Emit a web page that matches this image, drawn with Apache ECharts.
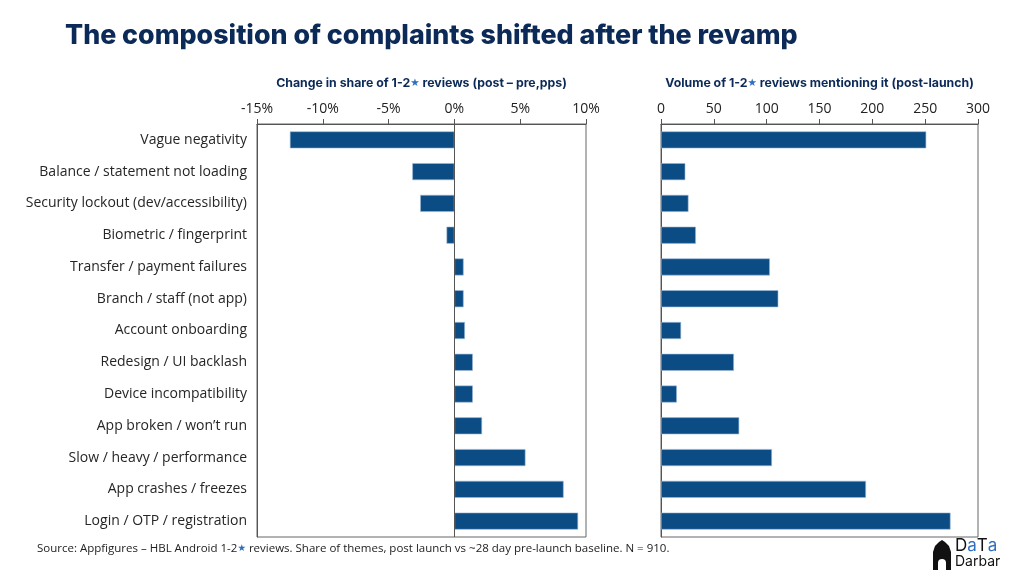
<!DOCTYPE html>
<html>
<head>
<meta charset="utf-8">
<script src="https://cdn.jsdelivr.net/npm/echarts@6/dist/echarts.min.js"></script>
<style>
  html, body { margin: 0; padding: 0; background: #fff; }
  #chart { width: 1024px; height: 576px; }
</style>
</head>
<body>
<div id="chart"></div>
<script>
// complaint themes, top to bottom
var themes = [
  'Vague negativity',
  'Balance / statement not loading',
  'Security lockout (dev/accessibility)',
  'Biometric / fingerprint',
  'Transfer / payment failures',
  'Branch / staff (not app)',
  'Account onboarding',
  'Redesign / UI backlash',
  'Device incompatibility',
  'App broken / won\u2019t run',
  'Slow / heavy / performance',
  'App crashes / freezes',
  'Login / OTP / registration'
];
// change in share, percentage points (post - pre)
var shareChange = [-12.5, -3.2, -2.6, -0.6, 0.7, 0.7, 0.8, 1.4, 1.4, 2.1, 5.4, 8.3, 9.4];
// number of 1-2 star reviews post launch
var volume = [251, 23, 26, 33, 103, 111, 19, 69, 15, 74, 105, 194, 274];

var changeTicks = { min: -15, max: 10, step: 5 };
var volumeTicks = { min: 0, max: 300, step: 50 };

var navy = '#0c2a57';
var barBlue = '#0b4c85';
var star = '#2f6fc0';
var font = 'Open Sans';

var chart = echarts.init(document.getElementById('chart'));

function valueAxis(idx, name, ticks, fmt) {
  return {
    type: 'value',
    gridIndex: idx,
    position: 'top',
    min: ticks.min,
    max: ticks.max,
    interval: ticks.step,
    name: name,
    nameLocation: 'middle',
    nameGap: 35,
    nameTextStyle: {
      rich: {
        a: { fontFamily: 'Inter', fontWeight: 'bold', fontSize: 12.3, color: navy },
        s: { fontFamily: 'DejaVu Sans', fontSize: 10.5, color: star }
      }
    },
    axisLine: { show: true, lineStyle: { color: '#555', width: 1 } },
    axisTick: { show: true, length: 5, lineStyle: { color: '#555' } },
    axisLabel: { formatter: fmt, fontFamily: font, fontSize: 14, color: '#222', margin: 8 },
    splitLine: { show: false }
  };
}

function catAxis(idx, showLabels) {
  return {
    type: 'category',
    gridIndex: idx,
    data: themes,
    inverse: true,
    axisLine: { show: true, onZero: false, lineStyle: { color: '#555' } },
    axisTick: { show: false },
    axisLabel: { show: showLabels, fontFamily: font, fontSize: 14, color: '#262626', margin: 10 }
  };
}

var option = {
  backgroundColor: '#fff',
  animation: false,
  graphic: [
    {
      type: 'text', x: 65, y: 22,
      style: { text: 'The composition of complaints shifted after the revamp',
        font: '800 26.8px Inter', fill: navy }
    },
    {
      type: 'text', x: 37, y: 543,
      style: {
        text: '{a|Source: Appfigures \u2013 HBL Android 1-2}{s|\u2605}{a| reviews. Share of themes, post launch vs ~28 day pre-launch baseline. N = 910.}',
        rich: {
          a: { fontFamily: font, fontSize: 11.5, fill: '#222' },
          s: { fontFamily: 'DejaVu Sans', fontSize: 9.5, fill: star }
        }
      }
    },
    {
      // logo dome
      type: 'polygon',
      shape: { points: [[933, 570], [933, 552], [935, 546], [939, 542], [942, 540], [945, 542], [949, 546], [951, 552], [951, 570]] },
      style: { fill: '#111' }
    },
    {
      type: 'rect',
      shape: { x: 938, y: 559, width: 8, height: 11, r: [4, 4, 0, 0] },
      style: { fill: '#fff' }
    },
    {
      type: 'text', x: 955, y: 537,
      style: {
        text: '{d|D}{b|a}{d|T}{b|a}',
        rich: {
          d: { fontFamily: 'Inter', fontSize: 17, fill: '#111' },
          b: { fontFamily: 'Inter', fontSize: 17, fill: star }
        }
      }
    },
    {
      type: 'text', x: 955, y: 555,
      style: { text: 'Darbar', font: '14px Inter', fill: '#111' }
    }
  ],
  grid: [
    { left: 257, right: 438, top: 124, bottom: 39, show: true, borderColor: '#666', borderWidth: 1 },
    { left: 661, right: 46, top: 124, bottom: 39, show: true, borderColor: '#666', borderWidth: 1 }
  ],
  xAxis: [
    valueAxis(0, '{a|Change in share of 1-2}{s|\u2605}{a| reviews (post \u2013 pre,pps)}', changeTicks, '{value}%'),
    valueAxis(1, '{a|Volume of 1-2}{s|\u2605}{a| reviews mentioning it (post-launch)}', volumeTicks, '{value}')
  ],
  yAxis: [catAxis(0, true), catAxis(1, false)],
  series: [
    {
      type: 'bar', xAxisIndex: 0, yAxisIndex: 0,
      data: shareChange, barWidth: 17,
      itemStyle: { color: barBlue, borderColor: '#9db8d6', borderWidth: 0.6 },
      markLine: {
        silent: true, symbol: 'none', label: { show: false },
        lineStyle: { color: '#555', width: 1, type: 'solid' },
        data: [{ xAxis: 0 }]
      }
    },
    {
      type: 'bar', xAxisIndex: 1, yAxisIndex: 1,
      data: volume, barWidth: 17,
      itemStyle: { color: barBlue, borderColor: '#9db8d6', borderWidth: 0.6 }
    }
  ]
};

chart.setOption(option);
</script>
</body>
</html>
